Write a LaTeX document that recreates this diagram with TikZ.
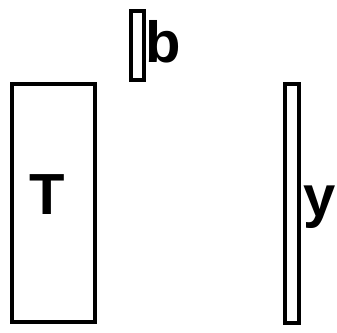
\documentclass[tikz,border=0pt]{standalone}
\usepackage{fontspec}
\setmainfont{Liberation Sans}
\usetikzlibrary{positioning}
\tikzset{
  every picture/.style={line width=4pt, x=1pt, y=-1pt},
  sblock/.style={draw, rectangle, inner sep=0pt},
  slabel/.style={inner sep=0pt, font=\fontsize{58}{60}\selectfont\bfseries},
}

\begin{document}
\begin{tikzpicture}
\useasboundingbox (0,0) rectangle (337,332);
\node[sblock, minimum width=82.5pt, minimum height=238pt] (blockT) at (53.25,203) {};
\node[sblock, minimum width=13pt, minimum height=69.5pt] (blockb) at (137,45.25) {};
\node[sblock, minimum width=13.5pt, minimum height=239pt] (blocky) at (291.75,203.5) {};
\node[slabel] (labT) at (47.2,194.5) {T};
\node[slabel] (labb) at (163,42) {b};
\node[slabel] (laby) at (320,206.7) {y};
\end{tikzpicture}
\end{document}
